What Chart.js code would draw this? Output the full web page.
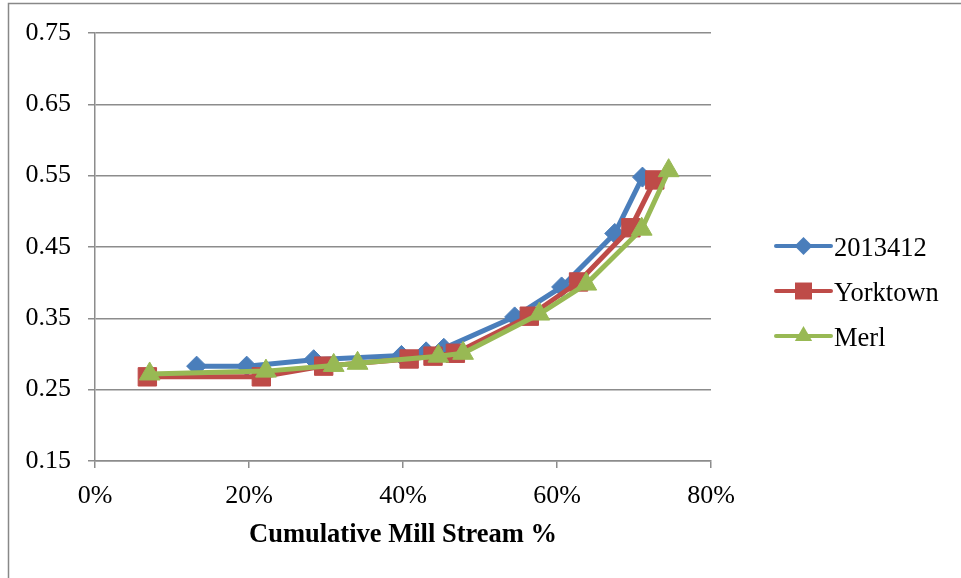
<!DOCTYPE html>
<html>
<head>
<meta charset="utf-8">
<script src="https://cdn.jsdelivr.net/npm/chart.js@4/dist/chart.umd.min.js"></script>
<style>
  html, body { margin: 0; padding: 0; background: #ffffff; }
  #wrap { width: 961px; height: 578px; position: relative; }
</style>
</head>
<body>
<div id="wrap"><canvas id="chart" width="961" height="578"></canvas></div>
<script>
// Cumulative mill stream (%) and measured value per mill
const seriesNames = ['2013412', 'Yorktown', 'Merl'];

const millStream2013412 = [13.2, 19.7, 28.4, 39.8, 43.0, 45.3, 54.5, 60.6, 67.5, 71.1];
const values2013412     = [0.283, 0.283, 0.292, 0.298, 0.303, 0.308, 0.352, 0.394, 0.469, 0.548];

const millStreamYorktown = [6.8, 21.6, 29.7, 40.8, 43.9, 46.8, 56.4, 62.8, 69.6, 72.7];
const valuesYorktown     = [0.268, 0.268, 0.283, 0.293, 0.297, 0.301, 0.353, 0.401, 0.477, 0.544];

const millStreamMerl = [7.1, 22.2, 31.0, 34.1, 44.6, 47.8, 57.7, 63.8, 71.0, 74.5];
const valuesMerl     = [0.272, 0.276, 0.284, 0.287, 0.297, 0.301, 0.356, 0.398, 0.475, 0.557];

const xTicks = [0, 20, 40, 60, 80];
const yTicks = [0.15, 0.25, 0.35, 0.45, 0.55, 0.65, 0.75];
const xTitle = 'Cumulative Mill Stream %';

const FONT = "'Liberation Serif', 'Times New Roman', serif";
const GRID = '#8c8c8c';

function toPoints(xs, ys) {
  return xs.map((x, i) => ({ x: x, y: ys[i] }));
}

const seriesStyle = [
  { color: '#4A7EBB', marker: 'rectRot',  radius: 10, legendRadius: 9 },
  { color: '#BE4B48', marker: 'rect',     radius: 13, legendRadius: 12 },
  { color: '#98B954', marker: 'triangle', radius: 12, legendRadius: 10 }
];

const seriesData = [
  toPoints(millStream2013412, values2013412),
  toPoints(millStreamYorktown, valuesYorktown),
  toPoints(millStreamMerl, valuesMerl)
];

const datasets = seriesNames.map((name, i) => ({
  label: name,
  data: seriesData[i],
  borderColor: seriesStyle[i].color,
  backgroundColor: seriesStyle[i].color,
  borderWidth: 5,
  tension: 0,
  pointStyle: seriesStyle[i].marker,
  pointRadius: seriesStyle[i].radius,
  pointHoverRadius: seriesStyle[i].radius,
  pointBackgroundColor: seriesStyle[i].color,
  pointBorderColor: seriesStyle[i].color,
  pointBorderWidth: 1,
  order: seriesNames.length - i
}));

// Outer frame of the chart object
const framePlugin = {
  id: 'frame',
  beforeDraw(chart) {
    const ctx = chart.ctx;
    ctx.save();
    ctx.fillStyle = '#ffffff';
    ctx.fillRect(0, 0, chart.width, chart.height);
    ctx.strokeStyle = '#888888';
    ctx.lineWidth = 1.5;
    ctx.strokeRect(8.5, 3.5, chart.width + 50, chart.height + 50);
    ctx.restore();
  }
};

// Legend with a line sample and the series marker, to the right of the plot
function drawMarker(ctx, style, x, y, r) {
  ctx.beginPath();
  if (style === 'rectRot') {
    ctx.moveTo(x, y - r); ctx.lineTo(x + r, y); ctx.lineTo(x, y + r); ctx.lineTo(x - r, y);
  } else if (style === 'rect') {
    const s = r * Math.SQRT1_2;
    ctx.rect(x - s, y - s, 2 * s, 2 * s);
  } else {
    const h = Math.sqrt(3) / 2 * r;
    ctx.moveTo(x, y - r); ctx.lineTo(x + h, y + r / 2); ctx.lineTo(x - h, y + r / 2);
  }
  ctx.closePath();
  ctx.fill();
}

const legendPlugin = {
  id: 'sideLegend',
  afterDraw(chart) {
    const ctx = chart.ctx;
    const x0 = 776, x1 = 831, rowTop = 246, rowGap = 45;
    ctx.save();
    chart.data.datasets.forEach((ds, i) => {
      const y = rowTop + i * rowGap;
      const st = seriesStyle[i];
      ctx.strokeStyle = st.color;
      ctx.fillStyle = st.color;
      ctx.lineWidth = 4;
      ctx.lineCap = 'round';
      ctx.beginPath();
      ctx.moveTo(x0, y);
      ctx.lineTo(x1, y);
      ctx.stroke();
      drawMarker(ctx, st.marker, (x0 + x1) / 2, y, st.legendRadius);
      ctx.fillStyle = '#000000';
      ctx.font = '26.5px ' + FONT;
      ctx.textBaseline = 'alphabetic';
      ctx.textAlign = 'left';
      ctx.fillText(ds.label, 834, y + 10);
    });
    ctx.restore();
  }
};

new Chart(document.getElementById('chart'), {
  type: 'line',
  data: { datasets: datasets },
  plugins: [framePlugin, legendPlugin],
  options: {
    responsive: false,
    animation: false,
    events: [],
    layout: { padding: { top: 33, right: 250, bottom: 0, left: 0 } },
    plugins: {
      legend: { display: false },
      tooltip: { enabled: false },
      title: { display: false }
    },
    scales: {
      x: {
        type: 'linear',
        min: xTicks[0],
        max: xTicks[xTicks.length - 1],
        afterBuildTicks(scale) { scale.ticks = xTicks.map(v => ({ value: v })); },
        afterFit(scale) { scale.height = 117; },
        ticks: {
          color: '#000000',
          padding: 13,
          font: { family: FONT, size: 26 },
          callback: v => v + '%',
          maxRotation: 0
        },
        grid: {
          drawOnChartArea: false,
          drawTicks: true,
          tickLength: 7,
          color: GRID,
          tickColor: GRID,
          lineWidth: 1.5
        },
        border: { display: true, color: GRID, width: 1.5 },
        title: {
          display: true,
          text: xTitle,
          color: '#000000',
          font: { family: FONT, size: 26.5, weight: 'bold' },
          padding: { top: 0, bottom: 27 }
        }
      },
      y: {
        type: 'linear',
        min: yTicks[0],
        max: yTicks[yTicks.length - 1],
        afterBuildTicks(scale) { scale.ticks = yTicks.map(v => ({ value: v })); },
        afterFit(scale) { scale.width = 95; },
        ticks: {
          color: '#000000',
          padding: 17,
          font: { family: FONT, size: 26 },
          callback: v => v.toFixed(2)
        },
        grid: {
          drawTicks: true,
          tickLength: 7,
          color: GRID,
          tickColor: GRID,
          lineWidth: 1.5
        },
        border: { display: true, color: GRID, width: 1.5 }
      }
    }
  }
});
</script>
</body>
</html>
